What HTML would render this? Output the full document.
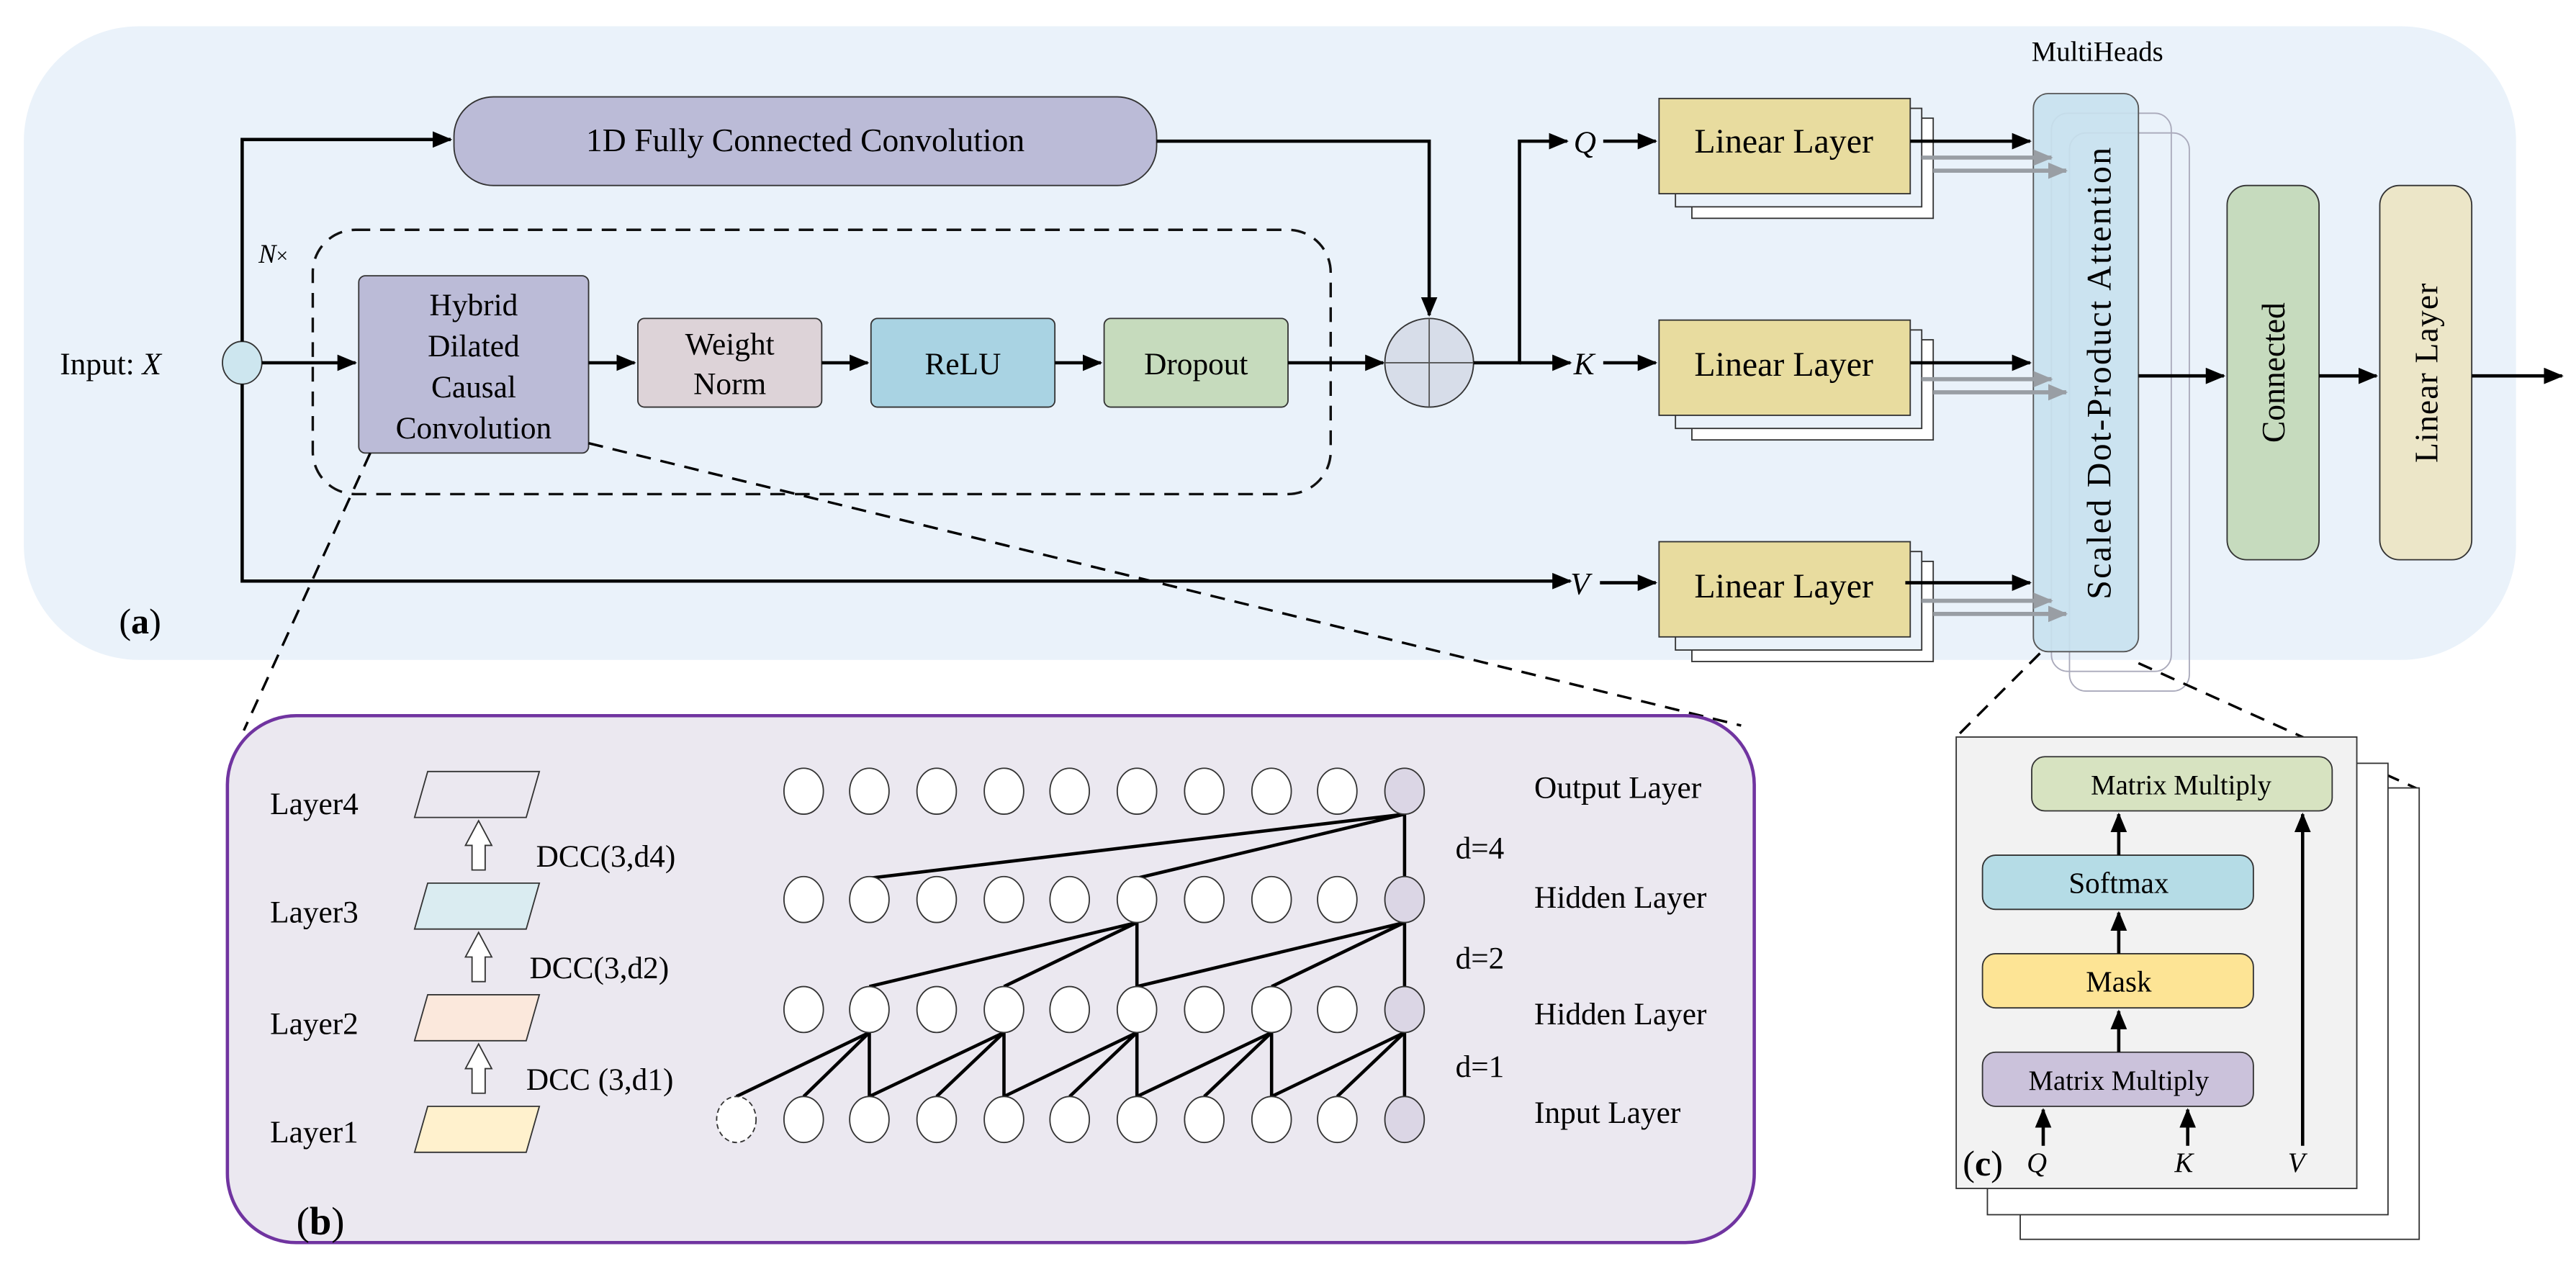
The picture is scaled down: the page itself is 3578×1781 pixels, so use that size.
<!DOCTYPE html>
<html><head><meta charset="utf-8"><style>html,body{margin:0;padding:0;background:#fff}svg{display:block}</style></head>
<body>
<svg width="3578" height="1781" viewBox="0 0 1568 781" xmlns="http://www.w3.org/2000/svg" font-family="'Liberation Serif', serif">
<defs>
<marker id="a" markerWidth="12" markerHeight="10" refX="11" refY="5" orient="auto" markerUnits="userSpaceOnUse"><path d="M0,0 L12,5 L0,10 z" fill="#000"/></marker>
<marker id="g" markerWidth="12" markerHeight="10" refX="11" refY="5" orient="auto" markerUnits="userSpaceOnUse"><path d="M0,0 L12,5 L0,10 z" fill="#999ea4"/></marker>
<g id="row"><ellipse cx="489" cy="0" rx="12" ry="14"/><ellipse cx="529" cy="0" rx="12" ry="14"/><ellipse cx="570" cy="0" rx="12" ry="14"/><ellipse cx="611" cy="0" rx="12" ry="14"/><ellipse cx="651" cy="0" rx="12" ry="14"/><ellipse cx="692" cy="0" rx="12" ry="14"/><ellipse cx="733" cy="0" rx="12" ry="14"/><ellipse cx="774" cy="0" rx="12" ry="14"/><ellipse cx="814" cy="0" rx="12" ry="14"/><ellipse cx="855" cy="0" rx="12" ry="14" fill="#dbd6e5"/></g>
</defs>
<rect x="0" y="0" width="1568" height="781" fill="#fff"/>
<rect x="14" y="16" width="1518" height="386" rx="70" fill="#eaf2fa"/>
<text x="1277" y="37" font-size="17" text-anchor="middle">MultiHeads</text>

<rect x="276" y="59" width="428" height="54" rx="24" fill="#bbbbd7" stroke="#333" stroke-width="0.8"/>
<text x="490" y="92" font-size="20" text-anchor="middle">1D Fully Connected Convolution</text>

<rect x="190" y="140" width="620" height="161" rx="26" fill="none" stroke="#111" stroke-width="1.5" stroke-dasharray="9,6"/>
<text x="157" y="160" font-size="16" font-style="italic">N<tspan font-style="normal" font-size="13">×</tspan></text>

<text x="36" y="228" font-size="19">Input: <tspan font-style="italic">X</tspan></text>
<ellipse cx="147" cy="221" rx="12" ry="13" fill="#cde6ef" stroke="#333" stroke-width="0.8"/>
<path d="M147,208 V85 H274" fill="none" stroke="#000" stroke-width="2" marker-end="url(#a)"/>
<path d="M147,234 V354 H952" fill="none" stroke="#000" stroke-width="2"/>
<path d="M159,221 H216" stroke="#000" stroke-width="2" marker-end="url(#a)"/>

<rect x="218" y="168" width="140" height="108" rx="4" fill="#bbbbd7" stroke="#333" stroke-width="0.8"/>
<g font-size="19" text-anchor="middle"><text x="288" y="192">Hybrid</text><text x="288" y="217">Dilated</text><text x="288" y="242">Causal</text><text x="288" y="267">Convolution</text></g>
<path d="M358,221 H386" stroke="#000" stroke-width="2" marker-end="url(#a)"/>
<rect x="388" y="194" width="112" height="54" rx="4" fill="#ddd3d8" stroke="#333" stroke-width="0.8"/>
<text x="444" y="216" font-size="19" text-anchor="middle">Weight</text><text x="444" y="240" font-size="19" text-anchor="middle">Norm</text>
<path d="M500,221 H528" stroke="#000" stroke-width="2" marker-end="url(#a)"/>
<rect x="530" y="194" width="112" height="54" rx="4" fill="#a9d3e3" stroke="#333" stroke-width="0.8"/>
<text x="586" y="228" font-size="19" text-anchor="middle">ReLU</text>
<path d="M642,221 H670" stroke="#000" stroke-width="2" marker-end="url(#a)"/>
<rect x="672" y="194" width="112" height="54" rx="4" fill="#c6dbbd" stroke="#333" stroke-width="0.8"/>
<text x="728" y="228" font-size="19" text-anchor="middle">Dropout</text>
<path d="M784,221 H842" stroke="#000" stroke-width="2" marker-end="url(#a)"/>

<ellipse cx="870" cy="221" rx="27" ry="27" fill="#d7dde9" stroke="#333" stroke-width="0.8"/>
<path d="M843,221 H897 M870,194 V248" stroke="#555" stroke-width="0.8"/>
<path d="M704,86 H870 V192" fill="none" stroke="#000" stroke-width="2" marker-end="url(#a)"/>
<path d="M897,221 H925 V86 H954" fill="none" stroke="#000" stroke-width="2" marker-end="url(#a)"/>
<path d="M925,221 H956" stroke="#000" stroke-width="2" marker-end="url(#a)"/>
<path d="M945,354 H956" stroke="#000" stroke-width="2" marker-end="url(#a)"/>
<g font-size="19" font-style="italic"><text x="958" y="93">Q</text><text x="958" y="228">K</text><text x="956" y="362">V</text></g>
<g stroke="#000" stroke-width="2" marker-end="url(#a)">
<path d="M976,86 H1008"/><path d="M976,221 H1008"/><path d="M974,355 H1008"/>
</g>

<g stroke="#333" stroke-width="0.8">
<rect x="1030" y="72" width="147" height="61" fill="#fff"/><rect x="1020" y="66" width="150" height="60" fill="#eaf2fa"/>
<rect x="1010" y="60" width="153" height="58" fill="#e8dc9f"/>
<rect x="1030" y="207" width="147" height="61" fill="#fff"/><rect x="1020" y="201" width="150" height="60" fill="#eaf2fa"/>
<rect x="1010" y="195" width="153" height="58" fill="#e8dc9f"/>
<rect x="1030" y="342" width="147" height="61" fill="#fff"/><rect x="1020" y="336" width="150" height="60" fill="#eaf2fa"/>
<rect x="1010" y="330" width="153" height="58" fill="#e8dc9f"/>
</g>
<g font-size="21" text-anchor="middle"><text x="1086" y="93">Linear Layer</text><text x="1086" y="229">Linear Layer</text><text x="1086" y="364">Linear Layer</text></g>

<rect x="1260" y="81" width="73" height="340" rx="10" fill="none" stroke="#aab" stroke-width="0.8"/>
<rect x="1249" y="69" width="73" height="340" rx="10" fill="none" stroke="#aab" stroke-width="0.8"/>
<rect x="1238" y="57" width="64" height="340" rx="9" fill="#c8e1ee" fill-opacity="0.9" stroke="#555" stroke-width="0.8"/>
<text transform="translate(1285,227) rotate(-90)" font-size="21" text-anchor="middle" letter-spacing="1">Scaled Dot-Product Attention</text>
<g stroke="#000" stroke-width="2" marker-end="url(#a)">
<path d="M1163,86 H1236"/><path d="M1163,221 H1236"/><path d="M1160,355 H1236"/>
</g>
<g stroke="#999ea4" stroke-width="2.5" marker-end="url(#g)">
<path d="M1170,96 H1249"/><path d="M1177,104 H1258"/><path d="M1170,231 H1249"/><path d="M1177,239 H1258"/><path d="M1170,366 H1249"/><path d="M1177,374 H1258"/>
</g>

<rect x="1356" y="113" width="56" height="228" rx="12" fill="#c6dbbe" stroke="#333" stroke-width="0.8"/>
<text transform="translate(1391,227) rotate(-90)" font-size="20" text-anchor="middle">Connected</text>
<rect x="1449" y="113" width="56" height="228" rx="12" fill="#ece6c8" stroke="#333" stroke-width="0.8"/>
<text transform="translate(1484,227) rotate(-90)" font-size="20" text-anchor="middle" letter-spacing="0.5">Linear Layer</text>
<g stroke="#000" stroke-width="2" marker-end="url(#a)">
<path d="M1302,229 H1354"/><path d="M1412,229 H1447"/><path d="M1505,229 H1560"/>
</g>

<text x="72" y="386" font-size="22">(<tspan font-weight="bold">a</tspan>)</text>

<path d="M225,276 L148,445 M358,270 L1060,442" stroke="#000" stroke-width="1.5" stroke-dasharray="9,6" fill="none"/>
<path d="M1242,398 L1191,449 M1302,404 L1473,481" stroke="#000" stroke-width="1.5" stroke-dasharray="9,6" fill="none"/>

<rect x="138" y="436" width="930" height="321" rx="42" fill="#ebe8f0" stroke="#7034a0" stroke-width="2"/>
<g font-size="19"><text x="164" y="496">Layer4</text><text x="164" y="562">Layer3</text><text x="164" y="630">Layer2</text><text x="164" y="696">Layer1</text></g>
<g stroke="#333" stroke-width="0.8">
<path d="M252,498 L260,470 L328,470 L320,498 z" fill="#ebe8f0"/>
<path d="M252,566 L260,538 L328,538 L320,566 z" fill="#daecf1"/>
<path d="M252,634 L260,606 L328,606 L320,634 z" fill="#fbe8dc"/>
<path d="M252,702 L260,674 L328,674 L320,702 z" fill="#fff1cd"/>
<path d="M287,530 V515 H283 L291,500 L299,515 H295 V530 z" fill="#fff"/>
<path d="M287,598 V583 H283 L291,568 L299,583 H295 V598 z" fill="#fff"/>
<path d="M287,666 V651 H283 L291,636 L299,651 H295 V666 z" fill="#fff"/>
</g>
<g font-size="19"><text x="326" y="528">DCC(3,d4)</text><text x="322" y="596">DCC(3,d2)</text><text x="320" y="664">DCC (3,d1)</text></g>
<text x="180" y="752" font-size="24">(<tspan font-weight="bold">b</tspan>)</text>

<g stroke="#000" stroke-width="2" fill="none">
<path d="M855,496 L529,535 M855,496 L692,535 M855,496 V535"/>
<path d="M692,562 L529,601 M692,562 L611,601 M692,562 V601 M855,562 L692,601 M855,562 L774,601 M855,562 V601"/>
<path d="M529,629 L448,668 M529,629 L489,668 M529,629 V668 M611,629 L529,668 M611,629 L570,668 M611,629 V668 M692,629 L611,668 M692,629 L651,668 M692,629 V668 M774,629 L692,668 M774,629 L733,668 M774,629 V668 M855,629 L774,668 M855,629 L814,668 M855,629 V668"/>
</g>
<g stroke="#333" stroke-width="0.8" fill="#fff">
<use href="#row" y="482"/><use href="#row" y="548"/><use href="#row" y="615"/><use href="#row" y="682"/>
<ellipse cx="448" cy="682" rx="12" ry="14" stroke-dasharray="3,2"/>
</g>
<g font-size="19"><text x="934" y="486">Output Layer</text><text x="934" y="553">Hidden Layer</text><text x="934" y="624">Hidden Layer</text><text x="934" y="684">Input Layer</text>
<text x="886" y="523">d=4</text><text x="886" y="590">d=2</text><text x="886" y="656">d=1</text></g>

<rect x="1230" y="480" width="243" height="275" fill="#fff" stroke="#333" stroke-width="0.8"/>
<rect x="1210" y="465" width="244" height="275" fill="#fff" stroke="#333" stroke-width="0.8"/>
<rect x="1191" y="449" width="244" height="275" fill="#f2f2f2" stroke="#333" stroke-width="0.8"/>
<rect x="1237" y="461" width="183" height="33" rx="8" fill="#d7e3c1" stroke="#333" stroke-width="0.8"/>
<text x="1328" y="484" font-size="17" text-anchor="middle">Matrix Multiply</text>
<rect x="1207" y="521" width="165" height="33" rx="8" fill="#b5dce6" stroke="#333" stroke-width="0.8"/>
<text x="1290" y="544" font-size="18" text-anchor="middle">Softmax</text>
<rect x="1207" y="581" width="165" height="33" rx="8" fill="#fde495" stroke="#333" stroke-width="0.8"/>
<text x="1290" y="604" font-size="18" text-anchor="middle">Mask</text>
<rect x="1207" y="641" width="165" height="33" rx="8" fill="#cbc2db" stroke="#333" stroke-width="0.8"/>
<text x="1290" y="664" font-size="17" text-anchor="middle">Matrix Multiply</text>
<g stroke="#000" stroke-width="2" marker-end="url(#a)">
<path d="M1290,521 V496"/><path d="M1290,581 V556"/><path d="M1290,641 V616"/>
<path d="M1244,698 V676"/><path d="M1332,698 V676"/><path d="M1402,698 V496"/>
</g>
<text x="1195" y="716" font-size="22">(<tspan font-weight="bold">c</tspan>)</text>
<g font-size="17" font-style="italic"><text x="1234" y="714">Q</text><text x="1324" y="714">K</text><text x="1393" y="714">V</text></g>
</svg>
</body></html>
